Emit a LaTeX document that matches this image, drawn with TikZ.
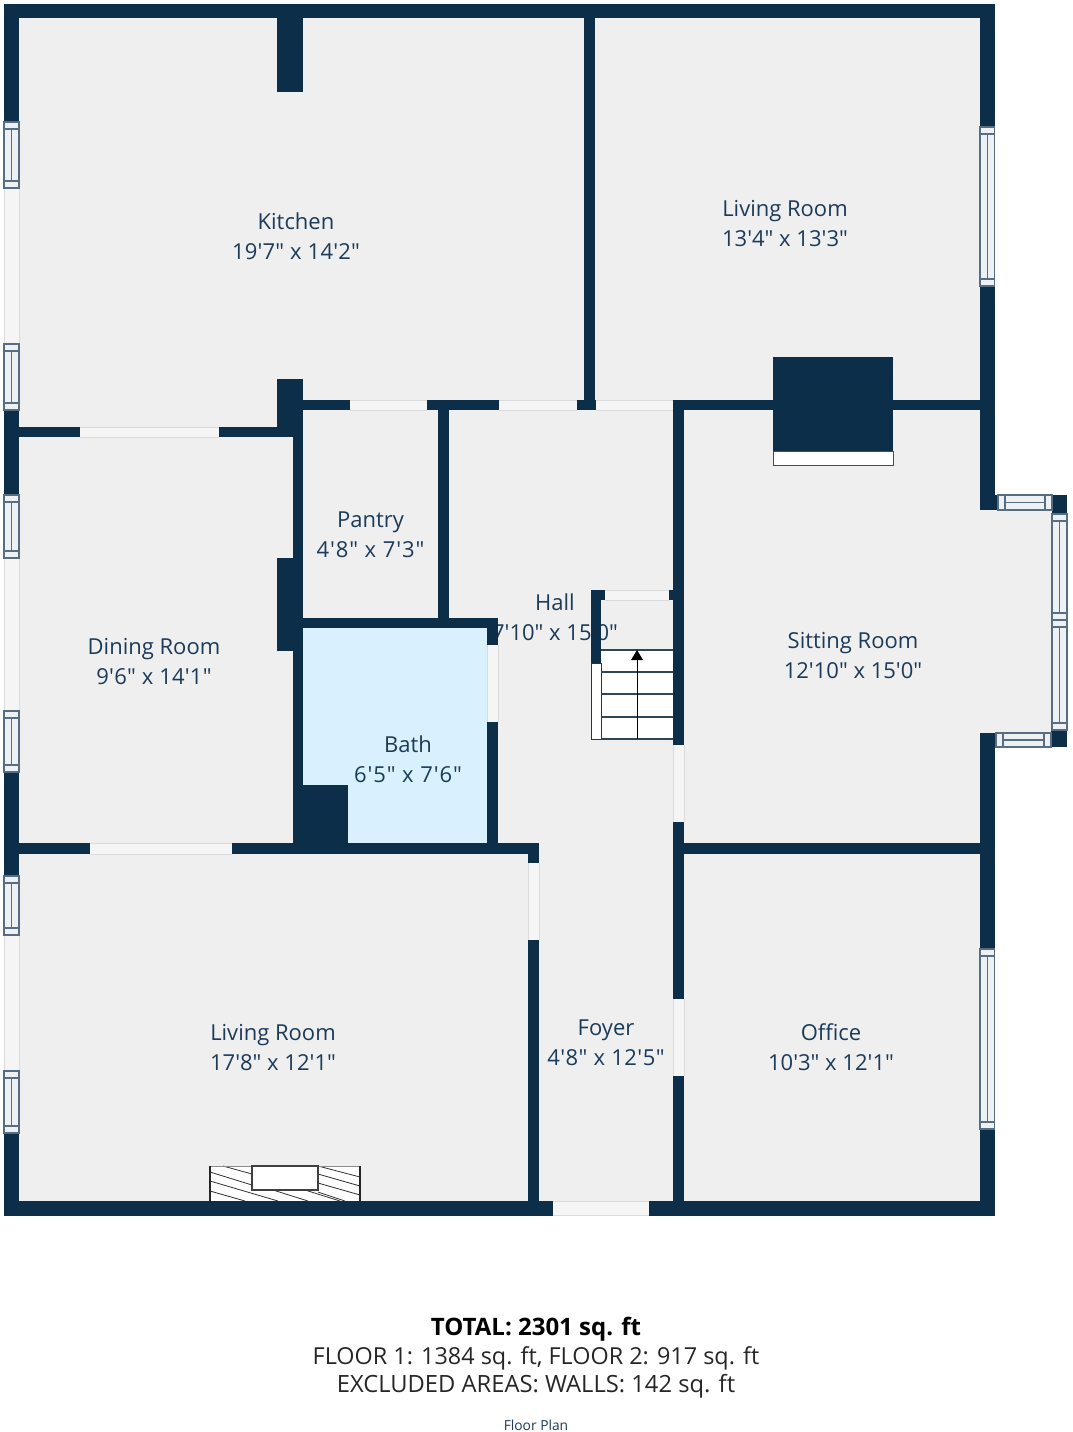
\documentclass[tikz,border=0pt]{standalone}
\usepackage{fontspec}
\newfontfamily\planfont{Open Sans}[Ligatures=NoCommon]
\newcommand{\spreadsize}[2]{{\addfontfeature{LetterSpace=#1}#2}}
\definecolor{wallblue}{HTML}{0D2E49}
\definecolor{floorgray}{HTML}{EFEFEF}
\definecolor{bathblue}{HTML}{D9F1FE}
\definecolor{textblue}{HTML}{1B3B59}
\definecolor{framegray}{HTML}{566D82}
\definecolor{panefill}{HTML}{EEF1F4}
\tikzset{
    wall/.style={fill=wallblue,draw=none},
    gap/.style={draw=black!14,line width=0.8pt},
    gapfill/.style={fill=black!4,draw=none},
    pane/.style={draw=framegray,line width=1.1pt,fill=panefill},
    room/.style={font=\planfont\fontsize{22}{30}\selectfont,text=textblue,align=center,inner sep=0pt},
    tread/.style={draw=wallblue!70!gray,line width=1.2pt},
    hatch/.style={draw=black!80,line width=0.8pt}
}

\begin{document}
\begin{tikzpicture}[x=1pt,y=-1pt]
    \useasboundingbox (0,0) rectangle (1072,1432);
    % floor and bath
    \fill[floorgray] (4,4) rectangle (994.5,1215.5);
    \fill[floorgray] (994,495) rectangle (1067,747);
    \fill[bathblue] (303,628) rectangle (487,843);
    % walls cut through this label in the plan
    \node[room] (hall) at (555,617) {Hall\\7'10" x 15'0"};
    % walls
    \foreach \xa/\ya/\xb/\yb in {4/4/994.5/18, 4/4/19/122, 4/410/19/495, 4/772/19/876, 4/1133/19/1215.5,
        980/4/994.5/127, 980/286/994.5/510, 980/733/994.5/949, 980/1129/994.5/1215.5,
        980/495/998/510, 1052/495/1067/514, 1051/730/1067/747, 980/733/996/747,
        277/4/303/92, 584/4/595/400, 277/379/303/437,
        303/400/350/410, 427/400/499/410, 577/400/596/410, 673/400/980/410,
        773/357/893/451, 19/427/80/437, 219/427/303/437,
        293/437/303/558, 277/558/303/651, 293/651/303/845, 293/785/348/854,
        303/618/498/628, 438/410/449/618, 487/618/498/645, 487/722/498/845,
        4/843/90/854, 232/843/539/854, 528/843/539/863, 528/940/539/1215.5, 683/843/980/854,
        673/400/684/745, 673/822/684/999, 673/1076/684/1215.5,
        4/1201/553/1215.5, 649/1201/994.5/1215.5,
        591/590/605/600, 669/590/673/600, 591/590/601/663}
        \fill[wall] (\xa,\ya) rectangle (\xb,\yb);
    % openings
    \foreach \xa/\xb/\ya/\yb in {350/427/400/410, 499/577/400/410, 596/673/400/410, 80/219/427/437,
        90/232/843/854, 553/649/1201/1215.5, 605/669/590/600} {
        \fill[gapfill] (\xa,\ya) rectangle (\xb,\yb);
        \draw[gap] (\xa,\ya) -- (\xb,\ya) (\xa,\yb) -- (\xb,\yb);
    }
    \foreach \xa/\xb/\ya/\yb in {4/19/188/344, 4/19/558/711, 4/19/935/1071,
        487/498/645/722, 528/539/863/940, 673/684/745/822, 673/684/999/1076} {
        \fill[gapfill] (\xa,\ya) rectangle (\xb,\yb);
        \draw[gap] (\xa,\ya) -- (\xa,\yb) (\xb,\ya) -- (\xb,\yb);
    }
    % windows
    \foreach \xa/\xb/\ya/\yb in {4/19/122/188, 4/19/344/410, 4/19/495/558, 4/19/711/772,
        4/19/876/935, 4/19/1071/1133, 980/994.5/127/286, 980/994.5/949/1129,
        1052/1067/514/620, 1052/1067/620/730} {
        \draw[pane] (\xa,\ya) rectangle (\xb,\yb);
        \draw[pane] (\xa,\ya+7) -- (\xb,\ya+7) (\xa,\yb-7) -- (\xb,\yb-7);
        \draw[pane] ({(\xa+\xb)/2},\ya+7) -- ({(\xa+\xb)/2},\yb-7);
    }
    \foreach \xa/\xb/\ya/\yb in {998/1052/495/510, 996/1051/733/747} {
        \draw[pane] (\xa,\ya) rectangle (\xb,\yb);
        \draw[pane] (\xa+7,\ya) -- (\xa+7,\yb) (\xb-7,\ya) -- (\xb-7,\yb);
        \draw[pane] (\xa+7,{(\ya+\yb)/2}) -- (\xb-7,{(\ya+\yb)/2});
    }
    % chimney front
    \draw[fill=white,draw=black!70,line width=1pt] (773,451) rectangle (893,465);
    % stairs
    \fill[white] (601,650) rectangle (673,739);
    \draw[fill=white,draw=black!80,line width=1pt] (591,663) rectangle (601,739);
    \foreach \y in {650,672,694,717,739}
        \draw[tread] (601,\y) -- (673,\y);
    \draw[black,line width=1pt] (637,739) -- (637,655);
    \fill[black] (637,650) -- (643,660) -- (631,660) -- cycle;
    % fireplace
    \fill[white] (210,1166) rectangle (360,1201);
    \foreach \xa/\ya/\xb/\yb in {223/1166/252/1174, 210/1172/252/1185, 210/1181/278/1201,
        210/1191/245/1201, 273/1190/308/1201, 305/1190/340/1201, 318/1166/360/1177,
        318/1174/360/1186, 318/1183/360/1195, 318/1192/345/1201}
        \draw[hatch] (\xa,\ya) -- (\xb,\yb);
    \draw[black!45,line width=0.6pt] (210,1166) -- (360,1166);
    \draw[black!85,line width=1.2pt] (210,1201) -- (210,1166) (360,1166) -- (360,1201);
    \draw[fill=white,draw=black!75,line width=1.2pt] (252,1166) rectangle (318,1190);
    % room labels
    \node[room] (kitchen) at (296,236) {Kitchen\\\spreadsize{1}{19'7" x 14'2"}};
    \node[room] (livingtop) at (785,224) {Living Room\\13'4" x 13'3"};
    \node[room] (pantry) at (370.5,535) {Pantry\\\spreadsize{4}{4'8" x 7'3"}};
    \node[room] (sitting) at (853,656) {Sitting Room\\12'10" x 15'0"};
    \node[room] (dining) at (154,662) {Dining Room\\\spreadsize{1}{9'6" x 14'1"}};
    \node[room] (bath) at (408,759) {Bath\\\spreadsize{4}{6'5" x 7'6"}};
    \node[room] (livingbottom) at (273,1048) {Living Room\\17'8" x 12'1"};
    \node[room] (foyer) at (606,1043) {Foyer\\\spreadsize{2}{4'8" x 12'5"}};
    \node[room] (office) at (831,1047) {Office\\10'3" x 12'1"};
    % totals
    \node[font=\planfont\bfseries\fontsize{24}{28}\selectfont,inner sep=0pt] (total) at (536,1329.5) {TOTAL: 2301 sq. ft};
    \node[font=\planfont\fontsize{23.4}{28}\selectfont,text=black!85,inner sep=0pt] (floors) at (536,1358) {FLOOR 1: 1384 sq. ft, FLOOR 2: 917 sq. ft};
    \node[font=\planfont\fontsize{23.75}{28}\selectfont,text=black!85,inner sep=0pt] (excluded) at (536,1386) {EXCLUDED AREAS: WALLS: 142 sq. ft};
    \node[font=\planfont\fontsize{13.8}{16}\selectfont,text=textblue,inner sep=0pt] (planname) at (536,1425.5) {Floor Plan};
\end{tikzpicture}
\end{document}
